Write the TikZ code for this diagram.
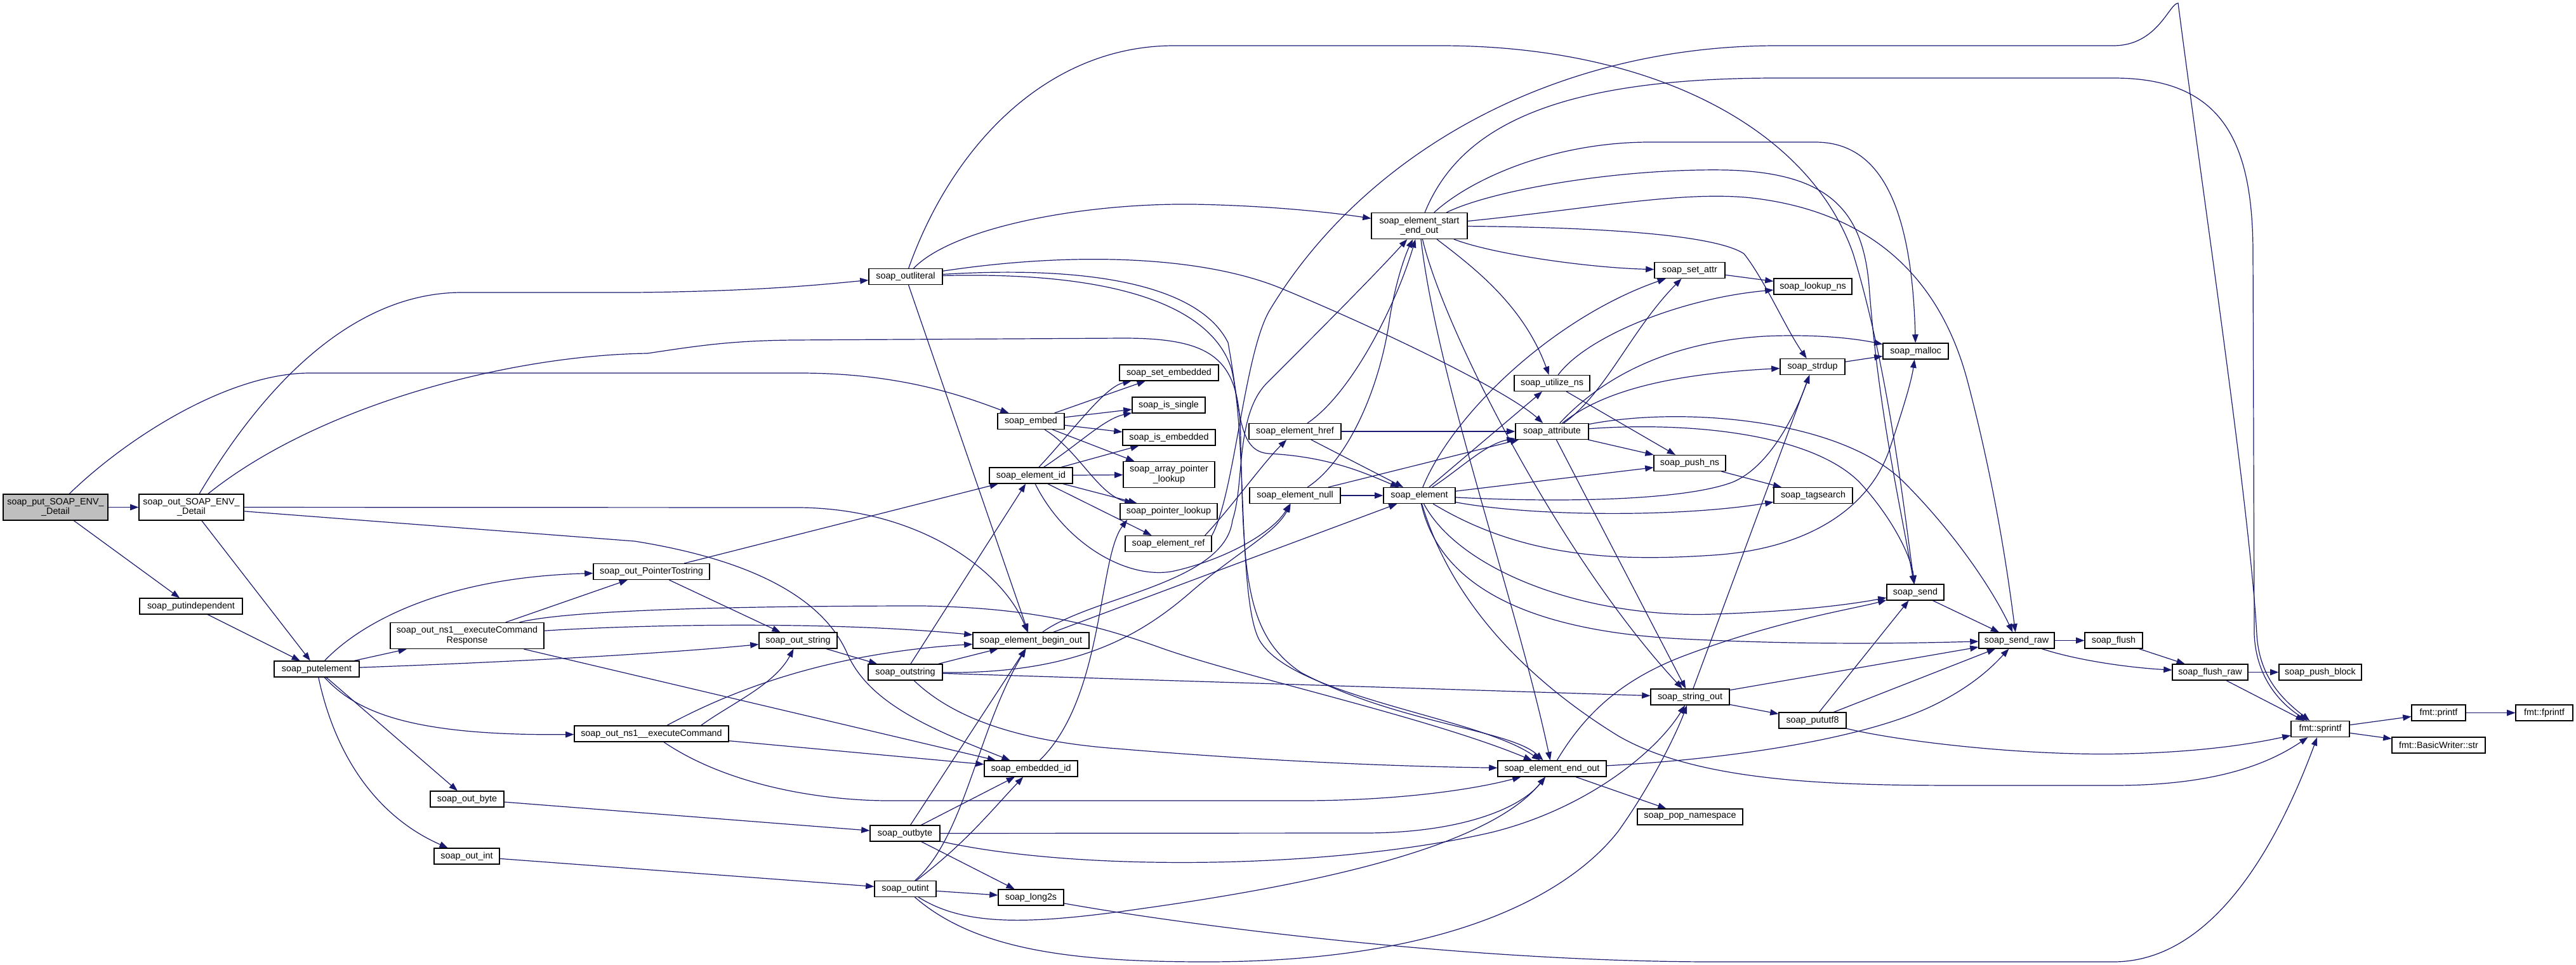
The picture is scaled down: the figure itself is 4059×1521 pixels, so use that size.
\documentclass[tikz,border=0pt]{standalone}
\usepackage{fontspec}
\setmainfont{Liberation Sans}
\usepackage{xcolor}
\usetikzlibrary{arrows.meta,backgrounds}

\definecolor{edgeblue}{HTML}{191970}
\definecolor{nodegray}{HTML}{BFBFBF}
\newcommand{\fnfont}{\fontsize{10.2pt}{11pt}\selectfont}

\begin{document}
\begin{tikzpicture}[x=0.25mm, y=-0.25mm,
    fn/.style={draw=black, line width=0.3mm, fill=white, font=\fnfont,
      inner xsep=1pt, inner ysep=0pt, minimum height=6.25mm,
      minimum width=#1*0.25mm},
    fn2/.style={fn=#1, minimum height=10.25mm, align=center},
    call/.style={draw=edgeblue, line width=0.3mm,
      -{Triangle[length=3.3mm, width=2.4mm]}}]

    % Frame of the picture
    \useasboundingbox (0,0) rectangle (4059,1521);

    % Functions, rank by rank from left to right
    \node[fn2=165, fill=nodegray] (putenv) at (87.5,799.5) {soap\_put\_SOAP\_ENV\_\\\_Detail};
    \node[fn2=165] (outenv) at (301.5,799.5) {soap\_out\_SOAP\_ENV\_\\\_Detail};
    \node[fn=162] (putindep) at (301,955.5) {soap\_putindependent};
    \node[fn=134] (putelem) at (499,1054.5) {soap\_putelement};
    \node[fn2=242] (cmdresp) at (736,1002) {soap\_out\_ns1\_\_executeCommand\\Response};
    \node[fn=116] (outbyteT) at (736,1259.5) {soap\_out\_byte};
    \node[fn=103] (outintT) at (735.5,1349.5) {soap\_out\_int};
    \node[fn=183] (ptrstr) at (1026.5,901) {soap\_out\_PointerTostring};
    \node[fn=243] (cmd) at (1026.5,1156.5) {soap\_out\_ns1\_\_executeCommand};
    \node[fn=123] (outstringT) at (1257.5,1009.5) {soap\_out\_string};
    \node[fn=116] (outliteral) at (1427,436) {soap\_outliteral};
    \node[fn=117] (outstring) at (1426.5,1059.5) {soap\_outstring};
    \node[fn=110] (outbyte) at (1426,1313.5) {soap\_outbyte};
    \node[fn=97] (outint) at (1426.5,1401) {soap\_outint};
    \node[fn=105] (embed) at (1624.5,664) {soap\_embed};
    \node[fn=131] (elemid) at (1624.5,749.5) {soap\_element\_id};
    \node[fn=183] (beginout) at (1624.5,1009.5) {soap\_element\_begin\_out};
    \node[fn=147] (embeddedid) at (1624.5,1211.5) {soap\_embedded\_id};
    \node[fn=103] (long2s) at (1624.5,1414.5) {soap\_long2s};
    \node[fn=156] (setemb) at (1842,587.5) {soap\_set\_embedded};
    \node[fn=115] (issingle) at (1841.5,638.5) {soap\_is\_single};
    \node[fn=146] (isemb) at (1842,689.5) {soap\_is\_embedded};
    \node[fn2=144] (arrlookup) at (1842,748) {soap\_array\_pointer\\\_lookup};
    \node[fn=153] (ptrlookup) at (1841.5,806) {soap\_pointer\_lookup};
    \node[fn=136] (elemref) at (1841,857) {soap\_element\_ref};
    \node[fn=145] (href) at (2040.5,680) {soap\_element\_href};
    \node[fn=143] (elemnull) at (2040.5,781) {soap\_element\_null};
    \node[fn2=151] (startend) at (2236.5,356) {soap\_element\_start\\\_end\_out};
    \node[fn=113] (element) at (2236.5,781) {soap\_element};
    \node[fn=119] (utilize) at (2445.5,604) {soap\_utilize\_ns};
    \node[fn=115] (attribute) at (2445.5,680) {soap\_attribute};
    \node[fn=171] (endout) at (2445.5,1211.5) {soap\_element\_end\_out};
    \node[fn=111] (setattr) at (2662.5,426) {soap\_set\_attr};
    \node[fn=113] (pushns) at (2662.5,730) {soap\_push\_ns};
    \node[fn=124] (stringout) at (2663,1098.5) {soap\_string\_out};
    \node[fn=166] (popns) at (2663,1287.5) {soap\_pop\_namespace};
    \node[fn=123] (lookupns) at (2856.5,451.5) {soap\_lookup\_ns};
    \node[fn=102] (strdup) at (2856,578) {soap\_strdup};
    \node[fn=124] (tagsearch) at (2857,781) {soap\_tagsearch};
    \node[fn=106] (pututf8) at (2856,1135.5) {soap\_pututf8};
    \node[fn=103] (malloc) at (3018.5,553.5) {soap\_malloc};
    \node[fn=90] (send) at (3018,933.5) {soap\_send};
    \node[fn=119] (sendraw) at (3177.5,1009.5) {soap\_send\_raw};
    \node[fn=91] (flush) at (3330.5,1009.5) {soap\_flush};
    \node[fn=119] (flushraw) at (3482.5,1059.5) {soap\_flush\_raw};
    \node[fn=130] (pushblock) at (3656,1059.5) {soap\_push\_block};
    \node[fn=92] (sprintf) at (3656,1149) {fmt::sprintf};
    \node[fn=85] (printf) at (3842.5,1123.5) {fmt::printf};
    \node[fn=90] (fprintf) at (4009,1123.5) {fmt::fprintf};
    \node[fn=147] (bwstr) at (3842.5,1174.5) {fmt::BasicWriter::str};

    \begin{scope}[on background layer]
    \fill[white] (0,0) rectangle (4059,1521);

    % soap_put_SOAP_ENV__Detail
    \draw[call] (putenv) -- (outenv);
    \draw[call] (putenv) .. controls (200,690) and (360,588) .. (488,588) -- (1260,588) .. controls (1420,588) and (1520,625) .. (embed);
    \draw[call] (putenv) -- (putindep);

    % soap_out_SOAP_ENV__Detail
    \draw[call] (outenv) .. controls (420,600) and (560,461) .. (728,461) -- (1000,461) .. controls (1200,459) and (1300,448) .. (outliteral);
    \draw[call] (outenv) .. controls (500,640) and (800,560) .. (1020,557) .. controls (1100,545) and (1150,537) .. (1250,536) -- (1770,533) .. controls (1920,533) and (1955,570) .. (1955,700) .. controls (1960,900) and (1960,1000) .. (2050,1060) .. controls (2200,1140) and (2380,1150) .. (endout);
    \draw[call] (outenv) -- (1260,800) .. controls (1450,802) and (1580,900) .. (beginout);
    \draw[call] (outenv) -- (1000,853) .. controls (1200,885) and (1300,950) .. (1335,1030) .. controls (1370,1110) and (1470,1150) .. (embeddedid);
    \draw[call] (outenv) -- (putelem);
    \draw[call] (putindep) -- (putelem);

    % soap_putelement
    \draw[call] (putelem) .. controls (570,980) and (700,910) .. (ptrstr);
    \draw[call] (putelem) -- (cmdresp);
    \draw[call] (putelem) .. controls (900,1040) and (1100,1025) .. (outstringT);
    \draw[call] (putelem) .. controls (560,1120) and (640,1160) .. (cmd);
    \draw[call] (putelem) -- (outbyteT);
    \draw[call] (putelem) .. controls (530,1200) and (600,1290) .. (outintT);

    % soap_out_ns1__executeCommandResponse
    \draw[call] (cmdresp) -- (ptrstr);
    \draw[call] (cmdresp) .. controls (900,960) and (1200,955) .. (1455,955) .. controls (1600,958) and (1700,975) .. (1826,1020) .. controls (1950,1065) and (2250,1130) .. (endout);
    \draw[call] (cmdresp) .. controls (1000,985) and (1300,978) .. (beginout);
    \draw[call] (cmdresp) -- (embeddedid);

    % soap_out_PointerTostring
    \draw[call] (ptrstr) -- (elemid);
    \draw[call] (ptrstr) -- (outstringT);

    % soap_out_ns1__executeCommand
    \draw[call] (cmd) .. controls (1150,1090) and (1300,1030) .. (beginout);
    \draw[call] ([xshift=-11mm]cmd.north east) .. controls (1150,1110) and (1220,1080) .. (outstringT);
    \draw[call] (cmd) -- (embeddedid);
    \draw[call] (cmd) .. controls (1150,1240) and (1300,1262) .. (1400,1262) -- (2050,1262) .. controls (2200,1262) and (2320,1245) .. (endout);

    % soap_out_byte, soap_out_int, soap_out_string
    \draw[call] (outbyteT) -- (outbyte);
    \draw[call] (outintT) -- (outint);
    \draw[call] (outstringT) -- (outstring);

    % soap_outliteral
    \draw[call] (outliteral) .. controls (1500,360) and (1700,320) .. (1880,322) .. controls (2000,324) and (2100,335) .. (startend);
    \draw[call] (outliteral) .. controls (1700,395) and (1900,405) .. (2020,455) .. controls (2200,530) and (2380,620) .. (attribute);
    \draw[call] (outliteral) .. controls (1500,230) and (1650,72) .. (1850,72) -- (2270,72) .. controls (2600,72) and (2850,200) .. (2920,400) .. controls (2975,580) and (3000,800) .. (send);
    \draw[call] (outliteral) -- (beginout);
    \draw[call] (outliteral) .. controls (1720,418) and (1890,450) .. (1935,540) .. controls (1955,650) and (1950,712) .. (2000,715) .. controls (2100,720) and (2160,750) .. (element);
    \draw[call] (outliteral) .. controls (1740,428) and (1905,475) .. (1940,580) .. controls (1965,680) and (1950,950) .. (1985,1010) .. controls (2040,1100) and (2330,1130) .. (endout);

    % soap_outstring
    \draw[call] (outstring) -- (beginout);
    \draw[call] (outstring) -- (elemid);
    \draw[call] (outstring) .. controls (1700,1062) and (1800,1000) .. (1880,930) .. controls (1950,870) and (2010,840) .. (elemnull);
    \draw[call] (outstring) -- (stringout);
    \draw[call] (outstring) .. controls (1500,1130) and (1600,1168) .. (1760,1180) .. controls (2000,1200) and (2200,1208) .. (endout);

    % soap_outbyte
    \draw[call] (outbyte) -- (beginout);
    \draw[call] (outbyte) -- (embeddedid);
    \draw[call] (outbyte) -- (2150,1313) .. controls (2300,1313) and (2395,1275) .. (endout);
    \draw[call] (outbyte) .. controls (1700,1375) and (2100,1370) .. (2350,1312) .. controls (2500,1275) and (2610,1185) .. (stringout);
    \draw[call] (outbyte) -- (long2s);

    % soap_outint
    \draw[call] (outint) .. controls (1520,1320) and (1540,1150) .. (beginout);
    \draw[call] (outint) .. controls (1520,1330) and (1560,1280) .. (embeddedid);
    \draw[call] (outint) -- (long2s);
    \draw[call] (outint) .. controls (1520,1460) and (1620,1458) .. (1800,1432) .. controls (2100,1390) and (2350,1330) .. (endout);
    \draw[call] (outint) .. controls (1540,1500) and (1700,1516) .. (1900,1516) .. controls (2300,1516) and (2480,1400) .. (2550,1310) .. controls (2600,1240) and (2640,1160) .. (stringout);

    % soap_long2s
    \draw[call] (long2s) .. controls (1850,1455) and (2300,1516) .. (2700,1516) -- (3330,1516) .. controls (3500,1516) and (3600,1300) .. (sprintf);

    % soap_embed
    \foreach \callee in {setemb,issingle,isemb,arrlookup}
        \draw[call] (embed) -- (\callee);
    \draw[call] (embed) .. controls (1700,710) and (1730,780) .. (ptrlookup);

    % soap_element_id
    \draw[call] (elemid) .. controls (1690,680) and (1740,610) .. (setemb);
    \draw[call] (elemid) .. controls (1700,700) and (1740,660) .. (issingle);
    \foreach \callee in {isemb,arrlookup,ptrlookup,elemref}
        \draw[call] (elemid) -- (\callee);
    \draw[call] (elemid) .. controls (1680,860) and (1780,915) .. (1850,900) .. controls (1930,882) and (2005,840) .. (elemnull);

    % soap_embedded_id
    \draw[call] (embeddedid) .. controls (1740,1100) and (1730,880) .. ([xshift=3mm]ptrlookup.south west);

    % soap_element_ref
    \draw[call] ([xshift=-2.75mm]elemref.north east) .. controls (1940,800) and (1990,730) .. (href);
    \draw[call] (elemref.north east) .. controls (1945,780) and (1960,560) .. (2000,490) .. controls (2150,240) and (2450,72) .. (2800,72) -- (3330,72) .. controls (3400,72) and (3418,5) .. (3432,5) .. controls (3470,300) and (3545,800) .. (3556,1000) .. controls (3560,1070) and (3600,1105) .. (sprintf);

    % soap_element_href
    \draw[call] (href) .. controls (2130,620) and (2200,480) .. (startend);
    \draw[call] (href) -- (attribute);
    \draw[call] (href) -- (element);

    % soap_element_null
    \draw[call] (elemnull) -- (element);
    \draw[call] (elemnull) -- (attribute);
    \draw[call] (elemnull) .. controls (2125,725) and (2175,610) .. (2190,500) .. controls (2200,440) and (2215,400) .. (startend);

    % soap_element_begin_out
    \draw[call] (beginout) -- (element);
    \draw[call] (beginout) .. controls (1720,940) and (1930,920) .. (1942,820) .. controls (1962,760) and (1945,650) .. (2000,600) .. controls (2060,540) and (2160,440) .. (startend);

    % soap_element_start_end_out
    \draw[call] (startend) .. controls (2300,200) and (2450,123) .. (2800,123) -- (3330,123) .. controls (3500,123) and (3550,220) .. (3550,400) -- (3552,1000) .. controls (3555,1070) and (3595,1110) .. (sprintf);
    \draw[call] (startend) .. controls (2320,280) and (2450,224) .. (2600,224) -- (2860,224) .. controls (2950,224) and (3012,300) .. (malloc);
    \draw[call] (startend) .. controls (2350,300) and (2550,265) .. (2720,268) .. controls (2880,272) and (2935,330) .. (2945,450) .. controls (2960,650) and (2995,800) .. (send);
    \draw[call] (startend) .. controls (2500,330) and (2650,300) .. (2760,312) .. controls (2960,335) and (3060,450) .. (3100,600) .. controls (3150,790) and (3168,940) .. (sendraw);
    \draw[call] (startend) .. controls (2350,400) and (2500,422) .. (setattr);
    \draw[call] (startend) .. controls (2320,420) and (2400,480) .. (utilize);
    \draw[call] (startend) .. controls (2275,520) and (2460,880) .. (stringout);
    \draw[call] (startend) .. controls (2265,600) and (2390,950) .. (endout);
    \draw[call] (startend) .. controls (2500,358) and (2700,368) .. (2748,400) .. controls (2780,440) and (2815,520) .. (strdup);

    % soap_element
    \draw[call] (element) .. controls (2290,650) and (2450,500) .. (setattr);
    \draw[call] (element) -- (utilize);
    \draw[call] (element) .. controls (2300,740) and (2340,700) .. (attribute);
    \draw[call] (element) -- (pushns);
    \draw[call] (element) .. controls (2450,792) and (2650,790) .. (2730,760) .. controls (2790,735) and (2830,650) .. (strdup);
    \draw[call] (element) .. controls (2420,815) and (2650,815) .. (tagsearch);
    \draw[call] (element) .. controls (2400,880) and (2550,885) .. (2700,875) .. controls (2850,865) and (2950,800) .. (2980,700) .. controls (3000,640) and (3012,600) .. (malloc);
    \draw[call] (element) .. controls (2300,900) and (2500,975) .. (2700,968) .. controls (2850,963) and (2930,950) .. (send);
    \draw[call] (element) .. controls (2270,930) and (2420,995) .. (2650,1007) .. controls (2850,1017) and (3000,1014) .. (sendraw);
    \draw[call] (element) .. controls (2290,960) and (2420,1080) .. (2550,1160) .. controls (2680,1235) and (2900,1238) .. (3100,1238) -- (3330,1238) .. controls (3500,1238) and (3580,1200) .. (sprintf);

    % soap_element_end_out
    \draw[call] (endout) .. controls (2500,1120) and (2560,1070) .. (2650,1035) .. controls (2800,978) and (2920,960) .. (send);
    \draw[call] (endout) .. controls (2750,1195) and (2950,1160) .. (3050,1110) .. controls (3110,1080) and (3140,1050) .. (sendraw);
    \draw[call] (endout) -- (popns);

    % soap_utilize_ns
    \draw[call] (utilize) -- (pushns);
    \draw[call] (utilize) .. controls (2500,530) and (2650,470) .. (lookupns);

    % soap_attribute
    \draw[call] (attribute) .. controls (2530,620) and (2570,520) .. (setattr);
    \draw[call] (attribute) .. controls (2520,620) and (2620,590) .. (strdup);
    \draw[call] (attribute) .. controls (2520,600) and (2620,540) .. (2780,530) .. controls (2870,526) and (2930,535) .. (malloc);
    \draw[call] (attribute) -- (pushns);
    \draw[call] (attribute) -- (stringout);
    \draw[call] (attribute) .. controls (2650,665) and (2850,680) .. (2930,760) .. controls (2985,820) and (3012,880) .. (send);
    \draw[call] (attribute) .. controls (2650,640) and (2900,660) .. (3000,760) .. controls (3080,840) and (3140,930) .. (sendraw);

    % short calls on the right
    \draw[call] (setattr) -- (lookupns);
    \draw[call] (pushns) -- (tagsearch);
    \draw[call] (stringout) -- (pututf8);
    \draw[call] (stringout) -- (sendraw);
    \draw[call] (stringout) -- (strdup);
    \draw[call] (pututf8) -- (send);
    \draw[call] (pututf8) -- (sendraw);
    \draw[call] (pututf8) .. controls (3000,1170) and (3200,1192) .. (3350,1188) .. controls (3480,1185) and (3560,1170) .. (sprintf);
    \draw[call] (strdup) -- (malloc);
    \draw[call] (send) -- (sendraw);
    \draw[call] (sendraw) -- (flush);
    \draw[call] (sendraw) .. controls (3270,1040) and (3350,1052) .. (flushraw);
    \draw[call] (flush) -- (flushraw);
    \draw[call] (flushraw) -- (pushblock);
    \draw[call] (flushraw) -- (sprintf);
    \draw[call] (sprintf) -- (printf);
    \draw[call] (sprintf) -- (bwstr);
    \draw[call] (printf) -- (fprintf);
    \end{scope}

\end{tikzpicture}
\end{document}
